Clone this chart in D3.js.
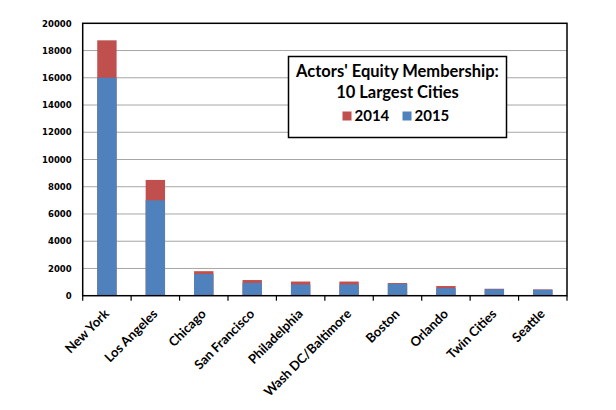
<!DOCTYPE html>
<html>
<head>
<meta charset="utf-8">
<script src="https://cdn.jsdelivr.net/npm/d3@7"></script>
<style>
  body { margin: 0; background: #fff; }
  svg { display: block; }
</style>
</head>
<body>
<svg id="chart"></svg>
<script>
const cities = ["New York", "Los Angeles", "Chicago", "San Francisco", "Philadelphia",
  "Wash DC/Baltimore", "Boston", "Orlando", "Twin Cities", "Seattle"]
const members2014 = [18750, 8500, 1800, 1150, 1040, 1040, 930, 710, 510, 460]
const members2015 = [16000, 7000, 1590, 940, 820, 830, 870, 560, 480, 440]
const yTicks = [0, 2000, 4000, 6000, 8000, 10000, 12000, 14000, 16000, 18000, 20000]

const width = 616, height = 410
const margin = {top: 23.3, right: 49, bottom: 114.3, left: 82.7}
const innerW = width - margin.left - margin.right
const innerH = height - margin.top - margin.bottom

const svg = d3.select('#chart')
    .attr('width', width)
    .attr('height', height)

const chart = svg.append('g')
    .attr('transform', `translate(${margin.left},${margin.top})`)

const xScale = d3.scaleBand()
    .domain(cities)
    .range([0, innerW])
    .paddingInner(0.6)
    .paddingOuter(0.3)

const yScale = d3.scaleLinear()
    .domain([0, 20000])
    .range([innerH, 0])

// gridlines
chart.selectAll('.grid')
    .data(yTicks.filter(d => d > 0 && d < 20000))
    .join('line')
        .attr('class', 'grid')
        .attr('x1', 0)
        .attr('x2', innerW)
        .attr('y1', d => yScale(d))
        .attr('y2', d => yScale(d))
        .attr('stroke', '#a6a6a6')
        .attr('stroke-width', 1)

// 2014 behind, 2015 in front
chart.selectAll('.bar14')
    .data(cities)
    .join('rect')
        .attr('class', 'bar14')
        .attr('fill', '#c0504d')
        .attr('x', d => xScale(d))
        .attr('width', xScale.bandwidth())
        .attr('y', (d, i) => yScale(members2014[i]))
        .attr('height', (d, i) => innerH - yScale(members2014[i]))

chart.selectAll('.bar15')
    .data(cities)
    .join('rect')
        .attr('class', 'bar15')
        .attr('fill', '#4f81bd')
        .attr('x', d => xScale(d))
        .attr('width', xScale.bandwidth())
        .attr('y', (d, i) => yScale(members2015[i]))
        .attr('height', (d, i) => innerH - yScale(members2015[i]))

// frame
chart.append('rect')
    .attr('x', 0).attr('y', 0)
    .attr('width', innerW).attr('height', innerH)
    .attr('fill', 'none')
    .attr('stroke', '#000')
    .attr('stroke-width', 1.5)

const yAxis = d3.axisLeft(yScale).tickValues(yTicks).tickSize(0).tickPadding(11)
    .tickFormat(d3.format('d'))
const yAxisG = chart.append('g').attr('class', 'axis y-axis').call(yAxis)
yAxisG.select('.domain').remove()
yAxisG.selectAll('text')
    .attr('font-family', '"DejaVu Sans", Verdana, sans-serif')
    .attr('font-weight', 'bold')
    .attr('font-size', 8.5)
    .attr('fill', '#000')

// x ticks between categories
chart.selectAll('.xtick')
    .data(d3.range(cities.length + 1))
    .join('line')
        .attr('class', 'xtick')
        .attr('x1', i => i * innerW / cities.length)
        .attr('x2', i => i * innerW / cities.length)
        .attr('y1', innerH)
        .attr('y2', innerH + 5)
        .attr('stroke', '#000')
        .attr('stroke-width', 1.2)

chart.selectAll('.xlabel')
    .data(cities)
    .join('text')
        .attr('class', 'xlabel')
        .attr('text-anchor', 'end')
        .attr('font-family', 'Lato, "Open Sans", sans-serif')
        .attr('font-weight', 'bold')
        .attr('font-size', 13)
        .attr('fill', '#000')
        .attr('transform', d => `translate(${xScale(d) + xScale.bandwidth() / 2 + 3},${innerH + 19}) rotate(-45)`)
        .text(d => d)

// legend box
const legend = svg.append('g').attr('transform', 'translate(288.5,56.5)')
legend.append('rect')
    .attr('width', 218).attr('height', 81)
    .attr('fill', '#fff')
    .attr('stroke', '#000')
    .attr('stroke-width', 1.5)

legend.append('text')
    .attr('x', 109).attr('y', 20)
    .attr('text-anchor', 'middle')
    .attr('font-family', 'Lato, "Open Sans", sans-serif')
    .attr('font-weight', 'bold')
    .attr('font-size', 16.5)
    .text("Actors' Equity Membership:")
legend.append('text')
    .attr('x', 109).attr('y', 41)
    .attr('text-anchor', 'middle')
    .attr('font-family', 'Lato, "Open Sans", sans-serif')
    .attr('font-weight', 'bold')
    .attr('font-size', 16.5)
    .text('10 Largest Cities')

const legendItems = [
    {label: '2014', color: '#c0504d', x: 54},
    {label: '2015', color: '#4f81bd', x: 114}
]
const li = legend.selectAll('.item')
    .data(legendItems)
    .join('g')
        .attr('class', 'item')
        .attr('transform', d => `translate(${d.x},55)`)
li.append('rect')
    .attr('width', 9).attr('height', 9)
    .attr('fill', d => d.color)
li.append('text')
    .attr('x', 12).attr('y', 9)
    .attr('font-family', 'Lato, "Open Sans", sans-serif')
    .attr('font-weight', 'bold')
    .attr('font-size', 15)
    .text(d => d.label)
</script>
</body>
</html>
